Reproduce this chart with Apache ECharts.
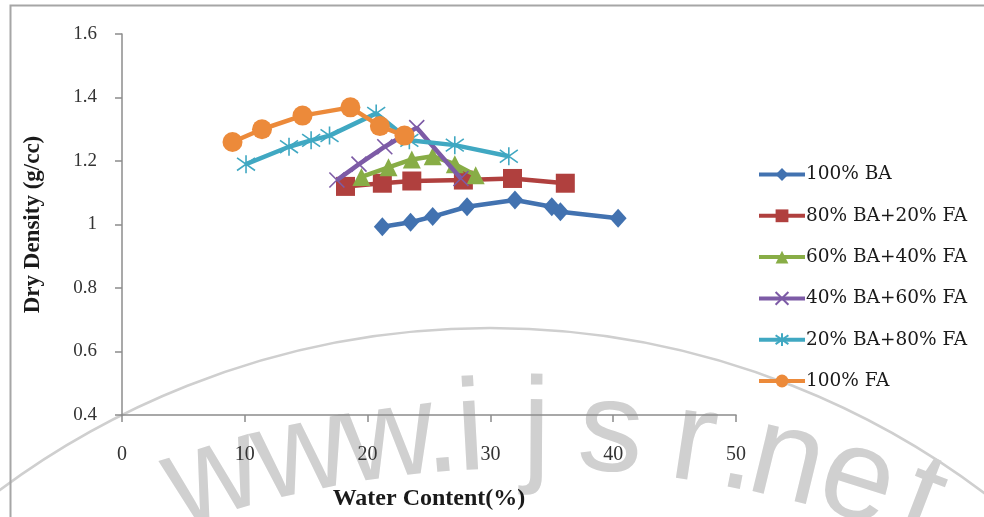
<!DOCTYPE html>
<html>
<head>
<meta charset="utf-8">
<script src="https://cdn.jsdelivr.net/npm/echarts@6/dist/echarts.min.js"></script>
<style>
  html, body { margin: 0; padding: 0; background: #ffffff; }
  #chart { width: 984px; height: 517px; }
</style>
</head>
<body>
<div id="chart"></div>
<script>
// Compaction curves: water content (%) vs dry density (g/cc)
const seriesNames = [
  '100% BA',
  '80% BA+20% FA',
  '60% BA+40% FA',
  '40% BA+60% FA',
  '20% BA+80% FA',
  '100% FA'
];

const waterBA100 = [21.2, 23.5, 25.3, 28.1, 32.0, 35.0, 35.7, 40.4];
const densityBA100 = [0.993, 1.007, 1.025, 1.056, 1.077, 1.056, 1.040, 1.020];

const waterBA80 = [18.2, 21.2, 23.6, 27.8, 31.8, 36.1];
const densityBA80 = [1.120, 1.130, 1.137, 1.140, 1.145, 1.130];

const waterBA60 = [19.5, 21.7, 23.6, 25.3, 27.1, 28.8];
const densityBA60 = [1.150, 1.180, 1.205, 1.215, 1.190, 1.155];

const waterBA40 = [17.5, 19.3, 21.4, 24.0, 27.6];
const densityBA40 = [1.140, 1.190, 1.245, 1.305, 1.145];

const waterBA20 = [10.1, 13.6, 15.4, 16.9, 20.7, 23.4, 27.1, 31.5];
const densityBA20 = [1.190, 1.245, 1.265, 1.280, 1.350, 1.265, 1.250, 1.215];

const waterFA100 = [9.0, 11.4, 14.7, 18.6, 21.0, 23.0];
const densityFA100 = [1.260, 1.300, 1.343, 1.369, 1.310, 1.280];

const xTicks = [0, 10, 20, 30, 40, 50];
const yTicks = [0.4, 0.6, 0.8, 1.0, 1.2, 1.4, 1.6];

const xTitle = 'Water Content(%)';
const yTitle = 'Dry Density (g/cc)';
const watermark = 'www.ijsr.net';

function pairs(xs, ys) {
  return xs.map(function (x, i) { return [x, ys[i]]; });
}

const colors = ['#4272B0', '#B0403E', '#88AD46', '#7D5BA6', '#40A8C2', '#EC8A3A'];
const symbols = [
  'diamond',
  'rect',
  'triangle',
  'path://M0,0L10,10M10,0L0,10',
  'path://M5,0L5,10M0,1.5L10,8.5M10,1.5L0,8.5',
  'circle'
];
const symbolSizes = [[17, 19], 19, 18, 15, 18, 20];
const strokeOnly = [false, false, false, true, true, false];

const allData = [
  pairs(waterBA100, densityBA100),
  pairs(waterBA80, densityBA80),
  pairs(waterBA60, densityBA60),
  pairs(waterBA40, densityBA40),
  pairs(waterBA20, densityBA20),
  pairs(waterFA100, densityFA100)
];

const series = seriesNames.map(function (name, i) {
  return {
    name: name,
    type: 'line',
    data: allData[i],
    symbol: symbols[i],
    symbolSize: symbolSizes[i],
    showAllSymbol: true,
    lineStyle: { color: colors[i], width: 4.5 },
    itemStyle: strokeOnly[i]
      ? { color: colors[i], borderColor: colors[i], borderWidth: 1.6 }
      : { color: colors[i], borderWidth: 0 },
    emphasis: { disabled: true },
    z: 2 + i
  };
});

// Faint curved watermark behind the plot: a thin ring plus letters set on a flatter arc
function watermarkElements() {
  const ring = { cx: 490, cy: 1150, r: 822 };
  const arc = { cx: 530, cy: 1525, r: 1028 };
  const letterX = [232, 315, 397, 446, 474, 536, 606, 684, 728, 772, 838, 898];
  const font = '130px "Liberation Sans", Arial, sans-serif';
  const els = [{
    type: 'circle',
    z: -10,
    silent: true,
    shape: { cx: ring.cx, cy: ring.cy, r: ring.r },
    style: { fill: 'none', stroke: '#cfcfcf', lineWidth: 2.5 }
  }];
  watermark.split('').forEach(function (ch, i) {
    const a = Math.asin((letterX[i] - arc.cx) / arc.r);
    els.push({
      type: 'text',
      z: -10,
      silent: true,
      x: arc.cx + arc.r * Math.sin(a),
      y: arc.cy - arc.r * Math.cos(a),
      rotation: -a,
      style: {
        text: ch,
        font: font,
        fill: '#d0d0d0',
        align: 'center',
        verticalAlign: 'bottom'
      }
    });
  });
  els.push({
    type: 'rect',
    z: -5,
    silent: true,
    shape: { x: 10.5, y: 5.5, width: 1000, height: 600 },
    style: { fill: 'none', stroke: '#a6a6a6', lineWidth: 2 }
  });
  return els;
}

const chart = echarts.init(document.getElementById('chart'), null, { renderer: 'canvas' });

chart.setOption({
  animation: false,
  backgroundColor: '#ffffff',
  color: colors,
  graphic: watermarkElements(),
  grid: { left: 122, right: 248, top: 34, bottom: 102, containLabel: false },
  legend: {
    orient: 'vertical',
    left: 752,
    top: 160,
    itemWidth: 46,
    itemHeight: 16,
    itemGap: 22.3,
    data: seriesNames,
    selectedMode: false,
    lineStyle: { width: 4 },
    textStyle: { fontFamily: '"DejaVu Serif", serif', fontSize: 18.5, color: '#1a1a1a', padding: [0, 0, 0, -4] }
  },
  xAxis: {
    type: 'value',
    min: xTicks[0],
    max: xTicks[xTicks.length - 1],
    interval: xTicks[1] - xTicks[0],
    name: xTitle,
    nameLocation: 'middle',
    nameGap: 72,
    nameTextStyle: { fontFamily: '"Liberation Serif", serif', fontWeight: 'bold', fontSize: 24, color: '#1a1a1a' },
    axisLine: { onZero: false, lineStyle: { color: '#8c8c8c', width: 1.5 } },
    axisTick: { show: true, length: 7, lineStyle: { color: '#8c8c8c', width: 1.5 } },
    axisLabel: { margin: 30, fontFamily: '"Liberation Serif", serif', fontSize: 20, color: '#333333' },
    splitLine: { show: false }
  },
  yAxis: {
    type: 'value',
    min: yTicks[0],
    max: yTicks[yTicks.length - 1],
    interval: 0.2,
    name: yTitle,
    nameLocation: 'middle',
    nameGap: 77,
    nameRotate: 90,
    nameTextStyle: { fontFamily: '"Liberation Serif", serif', fontWeight: 'bold', fontSize: 23, color: '#1a1a1a' },
    axisLine: { show: true, lineStyle: { color: '#8c8c8c', width: 1.5 } },
    axisTick: { show: true, length: 7, lineStyle: { color: '#8c8c8c', width: 1.5 } },
    axisLabel: {
      margin: 25,
      fontFamily: '"Liberation Serif", serif',
      fontSize: 19,
      color: '#333333',
      formatter: function (v) { return String(Math.round(v * 10) / 10); }
    },
    splitLine: { show: false }
  },
  series: series
});
</script>
</body>
</html>
